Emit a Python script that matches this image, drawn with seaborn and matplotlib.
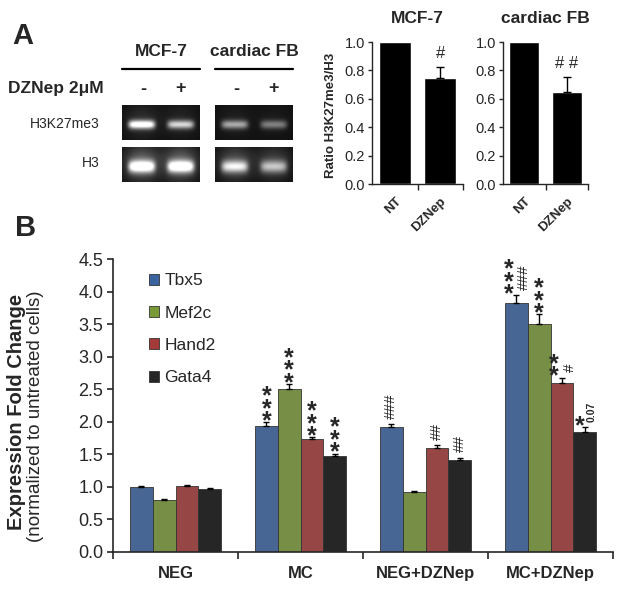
import numpy as np
import pandas as pd
import matplotlib
matplotlib.use('Agg')
import matplotlib.pyplot as plt
from matplotlib.patches import Patch
import seaborn as sns

# ---- data ----
# panel A: blot band intensities (lane -, lane +)
blot_mcf7_k27 = [1.0, 0.72]
blot_mcf7_h3 = [0.95, 0.95]
blot_fb_k27 = [0.55, 0.40]
blot_fb_h3 = [0.70, 0.55]

ratio_labels = ['NT', 'DZNep']
ratio_mcf7 = [1.0, 0.745]
ratio_mcf7_err = [0.0, 0.08]
ratio_fb = [1.0, 0.65]
ratio_fb_err = [0.0, 0.105]
sig_mcf7 = ['', '#']
sig_fb = ['', '# #']

# panel B: expression fold change
groups = ['NEG', 'MC', 'NEG+DZNep', 'MC+DZNep']
genes = ['Tbx5', 'Mef2c', 'Hand2', 'Gata4']
tbx5 = [1.00, 1.93, 1.92, 3.83]
mef2c = [0.80, 2.51, 0.92, 3.50]
hand2 = [1.01, 1.73, 1.59, 2.60]
gata4 = [0.97, 1.48, 1.41, 1.85]
tbx5_err = [0.02, 0.06, 0.05, 0.11]
mef2c_err = [0.02, 0.07, 0.02, 0.15]
hand2_err = [0.02, 0.03, 0.05, 0.08]
gata4_err = [0.02, 0.03, 0.04, 0.07]
stars = {'MC': ['***', '***', '***', '***'],
         'MC+DZNep': ['***', '***', '**', '*']}
hashes = {'NEG+DZNep': ['###', '', '##', '##'],
          'MC+DZNep': ['###', '', '#', '0.07']}

colors = ['#3A64A0', '#7A9A3A', '#A33A38', '#262626']

sns.set_style('ticks')
plt.rcParams['font.family'] = ['Liberation Sans', 'DejaVu Sans']

W, H = 624, 593
fig = plt.figure(figsize=(W / 100, H / 100), dpi=100)


def box(x0, y0, x1, y1):
    # pixel box (top-left origin) -> figure rect
    return [x0 / W, 1 - y1 / H, (x1 - x0) / W, (y1 - y0) / H]


def band_image(levels, glow, thick):
    h, w = 70, 156
    yy, xx = np.mgrid[0:h, 0:w]
    img = np.full((h, w), 0.06)
    for i, lv in enumerate(levels):
        cx = w * (0.25 + 0.5 * i)
        px = np.exp(-((xx - cx) / (w * 0.17)) ** 6)
        py = np.exp(-((yy - h * 0.55) / (h * thick)) ** 2)
        img += lv * px * py
        img += glow * lv * np.exp(-((xx - cx) / (w * 0.22)) ** 2) * np.exp(-((yy - h * 0.45) / (h * 0.5)) ** 2)
    return np.clip(img, 0, 1)


def stack(s):
    return '\n'.join(s)


# ---- panel A: blots ----
fig.text(12 / W, 1 - 36 / H, 'A', fontsize=21, fontweight='bold', va='center')
blots = [(122, 200, blot_mcf7_k27, blot_mcf7_h3), (215, 293, blot_fb_k27, blot_fb_h3)]
for x0, x1, k27, h3 in blots:
    for (y0, y1), lv, glow, th in [((105, 140), k27, 0.12, 0.12), ((147, 182), h3, 0.35, 0.17)]:
        bax = fig.add_axes(box(x0, y0, x1, y1))
        bax.imshow(band_image(lv, glow, th), cmap='gray', vmin=0, vmax=1, aspect='auto', interpolation='bilinear')
        bax.axis('off')
    fig.add_artist(plt.Line2D([x0 / W, x1 / W], [1 - 69 / H] * 2, color='black', lw=1.6))
    fig.text((x0 + x1) / 2 / W, 1 - 51 / H, 'MCF-7' if x0 < 210 else 'cardiac FB',
             fontsize=12.5, fontweight='bold', ha='center', va='center')
    fig.text((x0 + 0.27 * (x1 - x0)) / W, 1 - 89 / H, '-', fontsize=13, fontweight='bold', ha='center', va='center')
    fig.text((x0 + 0.75 * (x1 - x0)) / W, 1 - 89 / H, '+', fontsize=13, fontweight='bold', ha='center', va='center')
fig.text(8 / W, 1 - 89 / H, 'DZNep 2\u03bcM', fontsize=12.5, fontweight='bold', va='center')
fig.text(100 / W, 1 - 124 / H, 'H3K27me3', fontsize=10, ha='right', va='center')
fig.text(100 / W, 1 - 163 / H, 'H3', fontsize=10, ha='right', va='center')

# ---- panel A: ratio bars ----
for (x0, x1, vals, errs, sig, title) in [(372, 463, ratio_mcf7, ratio_mcf7_err, sig_mcf7, 'MCF-7'),
                                          (503, 588, ratio_fb, ratio_fb_err, sig_fb, 'cardiac FB')]:
    ax = fig.add_axes(box(x0, 42, x1, 184))
    df_r = pd.DataFrame({'cond': ratio_labels, 'ratio': vals})
    sns.barplot(data=df_r, x='cond', y='ratio', color='black', width=0.7, ax=ax)
    for p, e, s in zip(ax.patches, errs, sig):
        cx = p.get_x() + p.get_width() / 2
        top = p.get_height()
        if e > 0:
            ax.errorbar(cx, top, yerr=[[0], [e]], color='black', capsize=3, lw=1)
        if s:
            ax.text(cx, top + e + 0.04, s, ha='center', va='bottom', fontsize=12)
    ax.set_ylim(0, 1.0)
    ax.set_xlim(-0.5, 1.5)
    ax.set_yticks(np.arange(0, 1.01, 0.2))
    ax.set_yticklabels([f'{v:.1f}' for v in np.arange(0, 1.01, 0.2)], fontsize=10.5)
    ax.set_xticks([0, 1])
    ax.set_xticklabels(ratio_labels, rotation=45, ha='right', va='top', rotation_mode='anchor',
                       fontsize=9.5, fontweight='bold')
    ax.set_xticks([0.5, 1.5], minor=True)
    ax.tick_params(axis='x', which='major', length=0, pad=8)
    ax.tick_params(axis='x', which='minor', length=4, width=1)
    ax.tick_params(axis='y', length=3, width=1, pad=2)
    ax.set_xlabel('')
    ax.set_ylabel('')
    ax.set_title(title, fontsize=12.5, fontweight='bold', pad=14)
    for sp in ['top', 'right']:
        ax.spines[sp].set_visible(False)
    for sp in ['left', 'bottom']:
        ax.spines[sp].set_linewidth(1)
fig.text(331 / W, 1 - 115 / H, 'Ratio H3K27me3/H3', rotation=90, fontsize=9.5, fontweight='bold',
         ha='center', va='center')

# ---- panel B ----
fig.text(15 / W, 1 - 228 / H, 'B', fontsize=21, fontweight='bold', va='center')
df = pd.DataFrame({
    'group': groups * 4,
    'gene': [g for g in genes for _ in groups],
    'fc': tbx5 + mef2c + hand2 + gata4,
    'err': tbx5_err + mef2c_err + hand2_err + gata4_err,
})
axb = fig.add_axes(box(113, 259, 613, 552))
sns.barplot(data=df, x='group', y='fc', hue='gene', palette=colors, width=0.73,
            edgecolor='#333333', linewidth=0.6, ax=axb, legend=False)

bars = {}
for gi, gene in enumerate(genes):
    cont = axb.containers[gi]
    sub = df[df['gene'] == gene]
    for p, (_, row) in zip(cont.patches, sub.iterrows()):
        cx = p.get_x() + p.get_width() / 2
        axb.errorbar(cx, row['fc'], yerr=[[0], [row['err']]], color='black', capsize=2.5, lw=1)
        bars[(row['group'], gi)] = (cx, row['fc'] + row['err'], p.get_width())

star_kw = dict(ha='center', va='bottom', fontsize=18, fontweight='bold', linespacing=0.4)
hash_kw = dict(rotation=90, ha='center', va='bottom', fontsize=11)
for (grp, gi), (cx, top, w) in bars.items():
    s = stars.get(grp, [''] * 4)[gi]
    h = hashes.get(grp, [''] * 4)[gi]
    if s and h:
        if h == '0.07':
            axb.text(cx - 0.22 * w, top - 0.17, stack(s), **star_kw)
            axb.text(cx + 0.3 * w, top + 0.07, h, rotation=90, ha='center', va='bottom', fontsize=7.5, fontweight='bold')
        else:
            axb.text(cx - 0.35 * w, top - 0.17, stack(s), **star_kw)
            axb.text(cx + 0.34 * w, top + 0.08, h, **hash_kw)
    elif s:
        axb.text(cx, top - 0.17, stack(s), **star_kw)
    elif h:
        axb.text(cx, top + 0.08, h, **hash_kw)

axb.set_ylim(0, 4.5)
axb.set_xlim(-0.5, 3.5)
yt = np.arange(0, 4.51, 0.5)
axb.set_yticks(yt)
axb.set_yticklabels([f'{v:.1f}' for v in yt], fontsize=13)
axb.set_xticks(range(4))
axb.set_xticklabels(groups, fontsize=12, fontweight='bold')
axb.set_xticks([-0.5, 0.5, 1.5, 2.5, 3.5], minor=True)
axb.tick_params(axis='x', which='major', length=0, pad=10)
axb.tick_params(axis='x', which='minor', length=5, width=1.2)
axb.tick_params(axis='y', length=4, width=1.2, pad=3)
axb.set_xlabel('')
axb.set_ylabel('')
for sp in ['top', 'right']:
    axb.spines[sp].set_visible(False)
for sp in ['left', 'bottom']:
    axb.spines[sp].set_linewidth(1.2)

handles = [Patch(facecolor=c, edgecolor='#333333', linewidth=0.6) for c in colors]
axb.legend(handles, genes, loc='upper left', bbox_to_anchor=(0.04, 1.005), frameon=False,
           fontsize=12.5, handlelength=0.6, handleheight=0.6, handletextpad=0.3, labelspacing=1.0)

fig.text(17 / W, 1 - 412 / H, 'Expression Fold Change', rotation=90, fontsize=14.5, fontweight='bold',
         ha='center', va='center')
fig.text(36 / W, 1 - 416 / H, '(normalized to untreated cells)', rotation=90, fontsize=13.5,
         ha='center', va='center')

fig.savefig('out.png', dpi=100)
